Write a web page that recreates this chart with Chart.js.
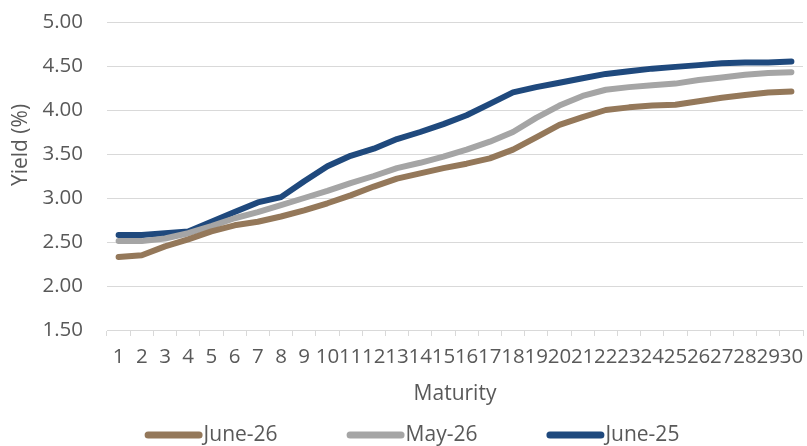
<!DOCTYPE html>
<html>
<head>
<meta charset="utf-8">
<script src="https://cdn.jsdelivr.net/npm/chart.js@4/dist/chart.umd.min.js"></script>
<style>
  html, body { margin: 0; padding: 0; background: #ffffff; }
  #wrap { width: 807px; height: 446px; position: relative; }
</style>
</head>
<body>
<div id="wrap"><canvas id="c" width="807" height="446"></canvas></div>
<script>
const maturities = ['1','2','3','4','5','6','7','8','9','10','11','12','13','14','15','16','17','18','19','20','21','22','23','24','25','26','27','28','29','30'];
const june26 = [2.33,2.35,2.45,2.53,2.62,2.69,2.73,2.79,2.86,2.94,3.03,3.13,3.22,3.28,3.34,3.39,3.45,3.55,3.69,3.83,3.92,4.00,4.03,4.05,4.06,4.10,4.14,4.17,4.20,4.21];
const may26 = [2.51,2.51,2.54,2.60,2.68,2.77,2.84,2.92,3.00,3.08,3.17,3.25,3.34,3.40,3.47,3.55,3.64,3.75,3.91,4.05,4.16,4.23,4.26,4.28,4.30,4.34,4.37,4.40,4.42,4.43];
const june25 = [2.58,2.58,2.60,2.62,2.73,2.84,2.95,3.01,3.19,3.36,3.48,3.56,3.67,3.75,3.84,3.94,4.07,4.20,4.26,4.31,4.36,4.41,4.44,4.47,4.49,4.51,4.53,4.54,4.54,4.55];
const seriesNames = ['June-26','May-26','June-25'];
const yMin = 1.5, yMax = 5.0, yStep = 0.5;
const yTitle = 'Yield (%)';
const xTitle = 'Maturity';

const colors = ['#94785A','#A5A5A5','#1F497D'];
const textColor = '#595959';
const FONT = "'Open Sans', 'DejaVu Sans', sans-serif";

const yTitlePlugin = {
  id: 'yTitle',
  afterDraw(chart) {
    const ctx = chart.ctx;
    ctx.save();
    ctx.font = "21px " + FONT;
    ctx.fillStyle = textColor;
    ctx.textAlign = 'center';
    ctx.textBaseline = 'middle';
    ctx.translate(21, 145);
    ctx.rotate(-Math.PI / 2);
    ctx.fillText(yTitle, 0, 0);
    ctx.restore();
  }
};

const legendPlugin = {
  id: 'customLegend',
  afterDraw(chart) {
    const ctx = chart.ctx;
    const ds = chart.data.datasets;
    const lineLen = 58, gapText = 1, gapItem = 69, y = 435;
    ctx.save();
    ctx.font = "21px " + FONT;
    const widths = ds.map(d => lineLen + gapText + ctx.measureText(d.label).width);
    const total = widths.reduce((a, b) => a + b, 0) + gapItem * (ds.length - 1);
    let x = 412 - total / 2;
    ds.forEach((d, i) => {
      ctx.strokeStyle = d.borderColor;
      ctx.lineWidth = 7;
      ctx.lineCap = 'round';
      ctx.beginPath();
      ctx.moveTo(x + 3.5, y);
      ctx.lineTo(x + lineLen - 3.5, y);
      ctx.stroke();
      ctx.fillStyle = textColor;
      ctx.textAlign = 'left';
      ctx.textBaseline = 'middle';
      ctx.fillText(d.label, x + lineLen + gapText, y);
      x += widths[i] + gapItem;
    });
    ctx.restore();
  }
};

const values = [june26, may26, june25];
const datasets = seriesNames.map((name, i) => ({
  label: name,
  data: values[i],
  borderColor: colors[i],
  backgroundColor: colors[i],
  borderWidth: 6,
  borderCapStyle: 'round',
  borderJoinStyle: 'round',
  pointRadius: 0,
  pointHoverRadius: 0,
  tension: 0,
  fill: false
}));

new Chart(document.getElementById('c'), {
  type: 'line',
  data: { labels: maturities, datasets: datasets },
  options: {
    responsive: false,
    animation: false,
    devicePixelRatio: 1,
    layout: { autoPadding: false, padding: { top: 22, right: 4, left: 0, bottom: 0 } },
    plugins: {
      legend: { display: false },
      tooltip: { enabled: false },
      title: { display: false }
    },
    scales: {
      x: {
        offset: true,
        grid: { display: true, drawOnChartArea: false, drawTicks: true, tickLength: 6, color: '#D9D9D9', offset: true },
        border: { display: true, color: '#D9D9D9', width: 1 },
        ticks: { color: textColor, font: { family: FONT, size: 20.5 }, autoSkip: false, maxRotation: 0, minRotation: 0, padding: 9 },
        title: { display: true, text: xTitle, color: textColor, font: { family: FONT, size: 21 }, padding: { top: 0, bottom: 39 } },
        afterFit(scale) { scale.height = 116; scale.paddingLeft = 0; scale.paddingRight = 0; }
      },
      y: {
        min: yMin,
        max: yMax,
        grid: { color: '#D9D9D9', lineWidth: 1, drawTicks: false },
        border: { display: false },
        ticks: { stepSize: yStep, color: textColor, font: { family: FONT, size: 20.5 }, padding: 24, callback: v => Number(v).toFixed(2) },
        afterFit(scale) { scale.width = 107; scale.paddingTop = 0; scale.paddingBottom = 0; }
      }
    }
  },
  plugins: [yTitlePlugin, legendPlugin]
});
</script>
</body>
</html>
